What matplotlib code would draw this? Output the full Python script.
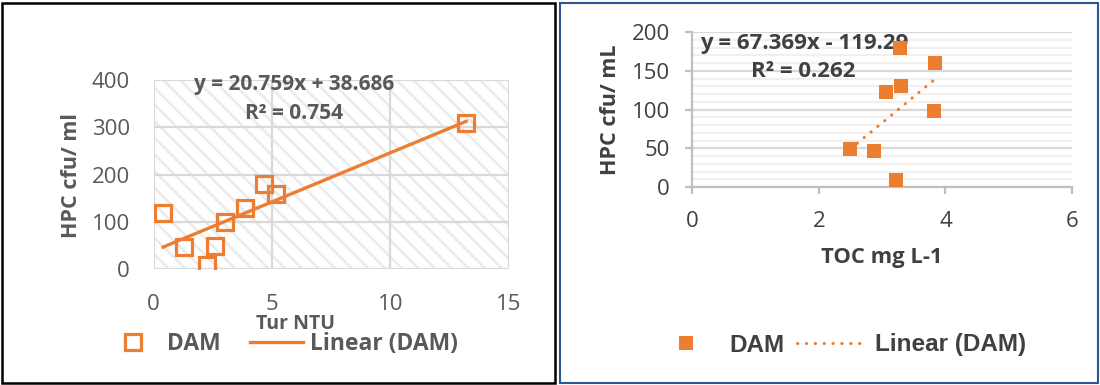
import matplotlib
matplotlib.use("Agg")
import matplotlib.pyplot as plt
from matplotlib.patches import Rectangle
from matplotlib.lines import Line2D
from matplotlib.ticker import MultipleLocator
import numpy as np

# ---- data ----
tur_ntu = [0.4, 1.3, 2.25, 2.6, 3.0, 3.86, 4.68, 5.17, 13.2]
hpc_tur = [120, 47, 9, 50, 99, 129, 180, 160, 310]
fit_tur = [20.759, 38.686]
eq_tur = "y = 20.759x + 38.686"
r2_tur = "R\u00b2 = 0.754"

toc_mg = [2.5, 2.87, 3.22, 3.06, 3.3, 3.29, 3.84, 3.82]
hpc_toc = [49, 47, 9, 122, 130, 180, 160, 98]
fit_toc = [67.369, -119.29]
eq_toc = "y = 67.369x - 119.29"
r2_toc = "R\u00b2 = 0.262"

ORANGE = "#ED7D31"
GRAY_TXT = "#595959"
DARK_TXT = "#404040"
W, H = 1100, 385

plt.rcParams['font.family'] = ['Open Sans', 'DejaVu Sans']
plt.rcParams['hatch.linewidth'] = 1.9
fig = plt.figure(figsize=(11, 3.85), dpi=100)

def fx(px):
    return px / W

def fy(py):
    return 1 - py / H

# panel borders
fig.patches.append(Rectangle((fx(2), fy(383)), fx(553), 380 / H, transform=fig.transFigure,
                             fill=False, edgecolor="black", linewidth=1.8))
fig.patches.append(Rectangle((fx(560), fy(383)), fx(538), 380 / H, transform=fig.transFigure,
                             fill=False, edgecolor="#2F5597", linewidth=1.5))

# ---------------- left chart ----------------
ax1 = fig.add_axes([fx(153.6), fy(269.3), fx(508.9 - 153.6), (269.3 - 80) / H])
ax1.set_xlim(0, 15)
ax1.set_ylim(0, 400)
ax1.add_patch(Rectangle((0, 0), 1, 1, transform=ax1.transAxes, facecolor="white",
                        edgecolor="#ebebeb", hatch="\\\\", linewidth=0, zorder=0))
ax1.set_xticks([0, 5, 10, 15])
ax1.set_yticks([0, 100, 200, 300, 400])
ax1.grid(True, color="#d9d9d9", linewidth=1.6, zorder=1)
ax1.set_axisbelow(True)
for s in ax1.spines.values():
    s.set_visible(False)
ax1.tick_params(length=0, labelsize=16, labelcolor=GRAY_TXT)
ax1.tick_params(axis='x', pad=18)
ax1.tick_params(axis='y', pad=17)
xs = np.array([min(tur_ntu), max(tur_ntu)])
ax1.plot(xs, fit_tur[0] * xs + fit_tur[1], color=ORANGE, linewidth=2.4, zorder=3)
ax1.plot(tur_ntu, hpc_tur, linestyle="none", marker="s", markersize=11,
         markerfacecolor="none", markeredgecolor=ORANGE, markeredgewidth=2.3, zorder=4)
ax1.text(5.93, 391, eq_tur, ha="center", va="center", fontsize=15, fontweight="bold", color=GRAY_TXT)
ax1.text(5.95, 330, r2_tur, ha="center", va="center", fontsize=15, fontweight="bold", color=GRAY_TXT)
fig.text(fx(71.4), fy(175), "HPC cfu/ ml", rotation=90, ha="center", va="center",
         fontsize=15.5, fontweight="bold", color=GRAY_TXT)
fig.text(fx(296), fy(324), "Tur NTU", ha="center", va="center",
         fontsize=14, fontweight="bold", color=GRAY_TXT)

h1 = Line2D([], [], linestyle="none", marker="s", markersize=11, markerfacecolor="none",
            markeredgecolor=ORANGE, markeredgewidth=2.3)
h2 = Line2D([], [], color=ORANGE, linewidth=2.4)
leg1 = fig.legend([h1, h2], ["DAM", "Linear (DAM)"], loc="center left",
                  bbox_to_anchor=(fx(107), fy(344)), ncol=2, frameon=False,
                  borderpad=0, borderaxespad=0, handlelength=2.3, handletextpad=0.3,
                  columnspacing=1.3, prop={'family': 'Open Sans', 'weight': 'bold', 'size': 16.5})
for t in leg1.get_texts():
    t.set_color(GRAY_TXT)

# ---------------- right chart ----------------
ax2 = fig.add_axes([fx(692.2), fy(187), fx(1072 - 692.2), (187 - 32) / H])
ax2.set_xlim(0, 6)
ax2.set_ylim(0, 200)
ax2.set_xticks([0, 2, 4, 6])
ax2.yaxis.set_major_locator(MultipleLocator(50))
ax2.yaxis.set_minor_locator(MultipleLocator(10))
ax2.grid(True, axis="y", which="major", color="#d9d9d9", linewidth=1.6)
ax2.grid(True, axis="y", which="minor", color="#f0f0f0", linewidth=1.6)
ax2.set_axisbelow(True)
for k in ("top", "right"):
    ax2.spines[k].set_visible(False)
for k in ("left", "bottom"):
    ax2.spines[k].set_color("#bfbfbf")
    ax2.spines[k].set_linewidth(1.6)
ax2.tick_params(which="major", length=5, width=1.6, color="#bfbfbf", labelsize=16, labelcolor=DARK_TXT)
ax2.tick_params(which="minor", length=0)
ax2.tick_params(axis='x', pad=12)
ax2.tick_params(axis='y', pad=11)
xs2 = np.array([min(toc_mg), max(toc_mg)])
ax2.plot(xs2, fit_toc[0] * xs2 + fit_toc[1], color=ORANGE, linewidth=2.2,
         linestyle=(0, (0.1, 2.8)), dash_capstyle="round", zorder=3)
ax2.plot(toc_mg, hpc_toc, linestyle="none", marker="s", markersize=10,
         markerfacecolor=ORANGE, markeredgecolor=ORANGE, markeredgewidth=0, zorder=4)
ax2.text(1.77, 185.8, eq_toc, ha="center", va="center", fontsize=16, fontweight="bold", color=DARK_TXT)
ax2.text(1.76, 148.4, r2_toc, ha="center", va="center", fontsize=16, fontweight="bold", color=DARK_TXT)
fig.text(fx(611), fy(110), "HPC cfu/ mL", rotation=90, ha="center", va="center",
         fontsize=15.5, fontweight="bold", color=DARK_TXT)
fig.text(fx(882), fy(258), "TOC mg L-1", ha="center", va="center",
         fontsize=15.8, fontweight="bold", color=DARK_TXT)

h3 = Line2D([], [], linestyle="none", marker="s", markersize=10, markerfacecolor=ORANGE,
            markeredgewidth=0)
h4 = Line2D([], [], color=ORANGE, linewidth=2.2, linestyle=(0, (0.1, 2.8)), dash_capstyle="round")
leg2 = fig.legend([h3, h4], ["DAM", "Linear (DAM)"], loc="center left",
                  bbox_to_anchor=(fx(652), fy(345)), ncol=2, frameon=False,
                  borderpad=0, borderaxespad=0, handlelength=2.8, handletextpad=0.4,
                  columnspacing=0.5, prop={'family': 'Liberation Sans', 'weight': 'bold', 'size': 17.5})
for t in leg2.get_texts():
    t.set_color(DARK_TXT)

fig.savefig("out.png", dpi=100)
